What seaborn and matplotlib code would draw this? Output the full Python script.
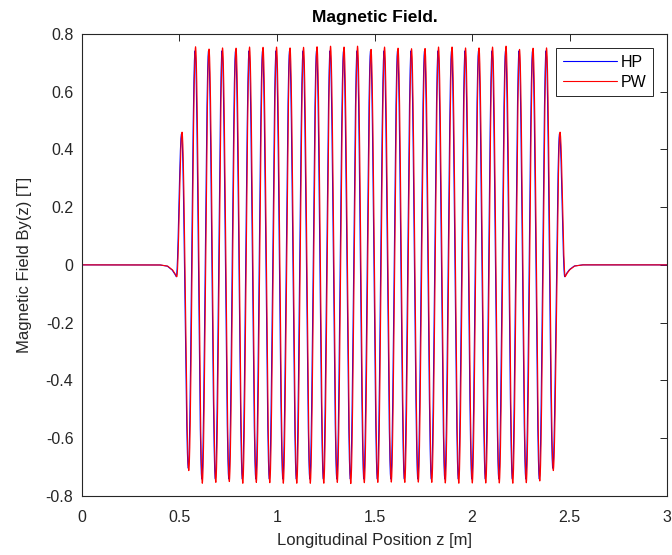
import numpy as np
import pandas as pd
import matplotlib
matplotlib.use("Agg")
import matplotlib.pyplot as plt
import seaborn as sns

# extrema of the PW field (T)
pw_pos_peaks = [0.756, 0.748, 0.752, 0.751, 0.755, 0.754, 0.755, 0.752, 0.754,
                0.756, 0.758, 0.755, 0.758, 0.747, 0.755, 0.751, 0.749, 0.750,
                0.755, 0.755, 0.752, 0.752, 0.755, 0.758, 0.747, 0.751, 0.752]
pw_neg_peaks = [-0.757, -0.754, -0.751, -0.757, -0.754, -0.755, -0.757, -0.757,
                -0.757, -0.757, -0.754, -0.758, -0.755, -0.754, -0.753, -0.754,
                -0.753, -0.754, -0.756, -0.757, -0.756, -0.756, -0.756, -0.757,
                -0.755, -0.749]
pw_end_poles = [0.46, -0.713]
hp_full = 0.742
hp_end_poles = [0.455, -0.705]

z_first = 0.514        # first (small) pole position [m]
half_period = 0.03458  # [m]
hp_shift = -0.0025     # [m]

# fringe field outside the undulator (z, By)
tail_in_z = [0.0, 0.40, 0.44, 0.465, 0.478, 0.487]
tail_in_b = [0.0, 0.0, -0.004, -0.017, -0.030, -0.041]
tail_out_z = [2.477, 2.486, 2.500, 2.525, 2.565, 3.0]
tail_out_b = [-0.041, -0.030, -0.017, -0.004, 0.0, 0.0]


def extrema_list(pos, neg, ends):
    core = []
    for i in range(len(pos)):
        core.append(pos[i])
        if i < len(neg):
            core.append(neg[i])
    return [ends[0], ends[1]] + core + [ends[1], ends[0]]


def field(z, vals, shift):
    zk = z_first + shift + half_period * np.arange(len(vals))
    kx = np.concatenate([[tail_in_z[-1] + shift], zk, [tail_out_z[0] + shift]])
    ky = np.concatenate([[tail_in_b[-1]], vals, [tail_out_b[0]]])
    b = np.zeros_like(z)
    inside = (z >= kx[0]) & (z <= kx[-1])
    idx = np.clip(np.searchsorted(kx, z[inside]) - 1, 0, len(kx) - 2)
    t = (z[inside] - kx[idx]) / (kx[idx + 1] - kx[idx])
    b[inside] = ky[idx] + (ky[idx + 1] - ky[idx]) * (1 - np.cos(np.pi * t)) / 2
    lo = z < kx[0]
    b[lo] = np.interp(z[lo], np.array(tail_in_z) + shift, tail_in_b)
    hi = z > kx[-1]
    b[hi] = np.interp(z[hi], np.array(tail_out_z) + shift, tail_out_b)
    return b


z = np.linspace(0, 3, 12001)
pw_vals = np.array(extrema_list(pw_pos_peaks, pw_neg_peaks, pw_end_poles))
hp_vals = np.array(extrema_list([hp_full] * len(pw_pos_peaks),
                                [-hp_full] * len(pw_neg_peaks), hp_end_poles))

df = pd.concat([
    pd.DataFrame({"z": z, "By": field(z, hp_vals, hp_shift), "src": "HP"}),
    pd.DataFrame({"z": z, "By": field(z, pw_vals, 0.0), "src": "PW"}),
])

sns.set_theme(style="white")
plt.rcParams['font.family'] = ['Liberation Sans', 'DejaVu Sans']
dark = '#262626'

fig = plt.figure(figsize=(6.72, 5.55), dpi=100)
ax = fig.add_axes([0.1216, 0.1068, 0.8714, 0.8319])
sns.lineplot(data=df, x="z", y="By", hue="src", palette={"HP": "#0000ff", "PW": "#ff0000"},
             estimator=None, sort=False, linewidth=0.8, ax=ax)

ax.set_xlim(0, 3)
ax.set_ylim(-0.8, 0.8)
ax.set_xticks(np.arange(0, 3.01, 0.5))
ax.set_xticklabels(['0', '0.5', '1', '1.5', '2', '2.5', '3'])
ax.set_yticks(np.round(np.arange(-0.8, 0.81, 0.2), 1))
ax.set_yticklabels(['-0.8', '-0.6', '-0.4', '-0.2', '0', '0.2', '0.4', '0.6', '0.8'])
ax.tick_params(direction='in', length=5, width=0.7, colors=dark, labelsize=11.5,
               top=True, right=True, labelcolor=dark)
ax.tick_params(axis='x', pad=10)
ax.tick_params(axis='y', pad=6)
for s in ax.spines.values():
    s.set_color(dark)
    s.set_linewidth(0.8)

ax.set_xlabel("Longitudinal Position z [m]", fontsize=12, color=dark, labelpad=6)
ax.set_ylabel("Magnetic Field By(z) [T]", fontsize=12, color=dark, labelpad=10)
ax.set_title("Magnetic Field.", fontsize=12.5, fontweight='bold', color='black', pad=9)

leg = ax.legend(loc='upper right', bbox_to_anchor=(0.976, 0.969), borderaxespad=0,
                fontsize=11.5, handlelength=3.4, handletextpad=0.25, labelspacing=0.3,
                fancybox=False, framealpha=1, edgecolor=dark, borderpad=0.4)
leg.get_frame().set_linewidth(0.7)
for t in leg.get_texts():
    t.set_color('black')

fig.savefig("out.png", dpi=100)
